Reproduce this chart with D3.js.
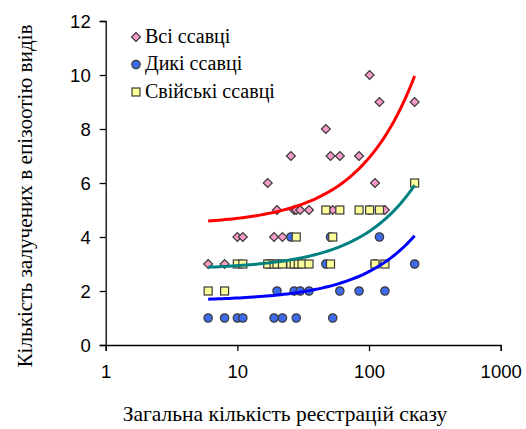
<!DOCTYPE html>
<html>
<head>
<meta charset="utf-8">
<script src="https://cdn.jsdelivr.net/npm/d3@7"></script>
<style>
  body { margin: 0; background: #fff; }
  svg { display: block; }
</style>
</head>
<body>
<div id="chart"></div>
<script>
// точки: [загальна кількість реєстрацій сказу, кількість видів]
var allMammals = [[6,3],[8,3],[10,4],[11,4],[17,6],[19,4],[20,5],[22,4],[25.5,7],[27,5],[28,5],[30,5],[35,5],
    [47,8],[51,7],[53,5],[60,7],[84,7],[101,10],[111,6],[120,9],[132,5],[222,9]];
var wildMammals = [[6,1],[8,1],[10,1],[11,1],[17,3],[19,1],[20,2],[22,1],[25.5,4],[27,2],[28,1],[30,2],[35,2],
    [47,3],[51,4],[53,1],[60,2],[84,2],[101,5],[111,3],[120,4],[132,2],[222,3]];
var domesticMammals = [[6,2],[8,2],[10,3],[11,3],[17,3],[19,3],[20,3],[22,3],[25.5,3],[27,3],[28,4],[29,3],[31,3],[35,3],
    [47,5],[51,3],[53,4],[60,5],[84,5],[101,5],[111,3],[120,5],[132,3],[222,6]];

var seriesNames = ["Всі ссавці", "Дикі ссавці", "Свійські ссавці"];
var xTicks = [1, 10, 100, 1000];
var yTicks = [0, 2, 4, 6, 8, 10, 12];
var xTitle = "Загальна кількість реєстрацій сказу";
var yTitle = "Кількість залучених в епізоотію видів";

var series = [
    { name: seriesNames[0], data: allMammals, marker: "diamond", fill: "#F79AC9", line: "#FF0000" },
    { name: seriesNames[1], data: wildMammals, marker: "circle", fill: "#3E6BEB", line: "#0000FF" },
    { name: seriesNames[2], data: domesticMammals, marker: "square", fill: "#FFFF99", line: "#008080" }
];

var SERIF = "Liberation Serif";
var SANS = "Liberation Sans";

var W = 526, H = 429;
var x = d3.scaleLog().domain([1, 1000]).range([105.7, 500.7]);
var y = d3.scaleLinear().domain([0, 12]).range([345, 21]);

var svg = d3.select("#chart").append("svg")
    .attr("width", W)
    .attr("height", H);

svg.append("rect").attr("width", W).attr("height", H).attr("fill", "#fff");

// осі
var xAxis = svg.append("g")
    .attr("transform", "translate(0," + y(0) + ")")
    .call(d3.axisBottom(x).tickValues(xTicks).tickFormat(d3.format("d")).tickSizeOuter(0).tickSize(6).tickPadding(8));
var yAxis = svg.append("g")
    .attr("transform", "translate(" + x(1) + ",0)")
    .call(d3.axisLeft(y).tickValues(yTicks).tickSizeOuter(0).tickSize(6).tickPadding(9));

[xAxis, yAxis].forEach(function (g) {
    g.attr("font-family", SANS).attr("font-size", 18.5);
    g.selectAll("path, line").attr("stroke", "#000").attr("stroke-width", 1.3);
    g.selectAll("text").attr("fill", "#000");
});
xAxis.selectAll("text").attr("dy", "1em");
yAxis.selectAll("text").attr("dy", "0.36em");

// підписи осей
svg.append("text")
    .attr("x", 285)
    .attr("y", 421)
    .attr("text-anchor", "middle")
    .attr("font-family", SERIF)
    .attr("font-size", 21.5)
    .text(xTitle);

svg.append("text")
    .attr("transform", "translate(32,196) rotate(-90)")
    .attr("text-anchor", "middle")
    .attr("font-family", SERIF)
    .attr("font-size", 21.2)
    .text(yTitle);

// маркери
function drawMarker(sel, kind, fill) {
    if (kind === "circle") {
        sel.append("circle").attr("r", 4.2);
    } else if (kind === "square") {
        sel.append("rect").attr("x", -4).attr("y", -4).attr("width", 8).attr("height", 8);
    } else {
        sel.append("path").attr("d", d3.symbol(d3.symbolSquare, 40)()).attr("transform", "rotate(45)");
    }
    sel.selectAll("circle, rect, path")
        .attr("fill", fill)
        .attr("stroke", "#3a3a3a")
        .attr("stroke-width", 1.2);
}

series.forEach(function (s) {
    var g = svg.append("g");
    g.selectAll("g")
        .data(s.data)
        .enter().append("g")
        .attr("transform", function (d) { return "translate(" + x(d[0]) + "," + y(d[1]) + ")"; })
        .each(function () { drawMarker(d3.select(this), s.marker, s.fill); });
});

// лінійні лінії тренду (метод найменших квадратів), на логарифмічній осі вони вигинаються
series.forEach(function (s) {
    var mx = d3.mean(s.data, function (d) { return d[0]; });
    var my = d3.mean(s.data, function (d) { return d[1]; });
    var sxy = d3.sum(s.data, function (d) { return (d[0] - mx) * (d[1] - my); });
    var sxx = d3.sum(s.data, function (d) { return (d[0] - mx) * (d[0] - mx); });
    var b = sxy / sxx, a = my - b * mx;
    var ext = d3.extent(s.data, function (d) { return d[0]; });
    var p0 = x(ext[0]), p1 = x(ext[1]);
    var pts = d3.range(0, 61).map(function (i) {
        var xv = x.invert(p0 + (p1 - p0) * i / 60);
        return [xv, a + b * xv];
    });
    svg.append("path")
        .datum(pts)
        .attr("fill", "none")
        .attr("stroke", s.line)
        .attr("stroke-width", 3)
        .attr("d", d3.line()
            .x(function (d) { return x(d[0]); })
            .y(function (d) { return y(d[1]); }));
});

// легенда
var legend = svg.append("g").attr("transform", "translate(136,37)");
series.forEach(function (s, i) {
    var row = legend.append("g").attr("transform", "translate(0," + (i * 27.5) + ")");
    drawMarker(row.append("g"), s.marker, s.fill);
    row.append("text")
        .attr("x", 9)
        .attr("y", 5.5)
        .attr("font-family", SERIF)
        .attr("font-size", 20)
        .text(s.name);
});
</script>
</body>
</html>
